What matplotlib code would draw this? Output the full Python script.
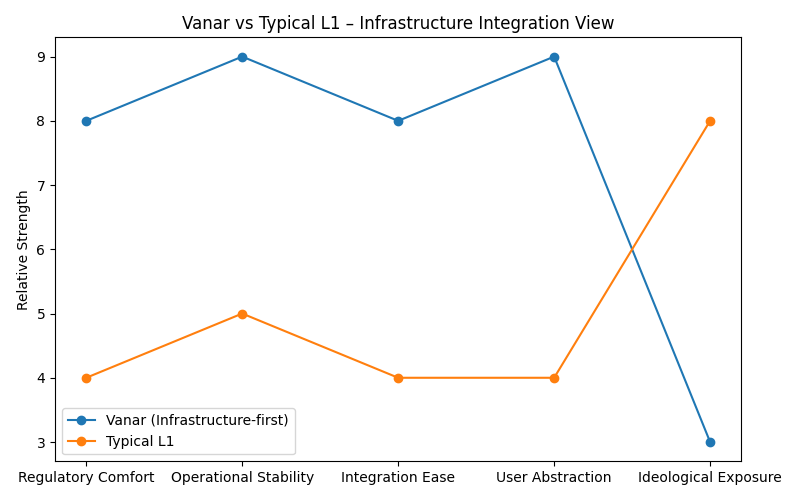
import matplotlib
matplotlib.use("Agg")
import matplotlib.pyplot as plt

categories = [
    "Regulatory Comfort",
    "Operational Stability",
    "Integration Ease",
    "User Abstraction",
    "Ideological Exposure",
]
vanar = [8, 9, 8, 9, 3]
typical_l1 = [4, 5, 4, 4, 8]

fig, ax = plt.subplots(figsize=(8, 5), dpi=100)
ax.plot(categories, vanar, marker="o", label="Vanar (Infrastructure-first)")
ax.plot(categories, typical_l1, marker="o", label="Typical L1")
ax.set_title("Vanar vs Typical L1 – Infrastructure Integration View")
ax.set_ylabel("Relative Strength")
ax.legend(loc="lower left")
plt.tight_layout()
plt.savefig("out.png", dpi=100)
